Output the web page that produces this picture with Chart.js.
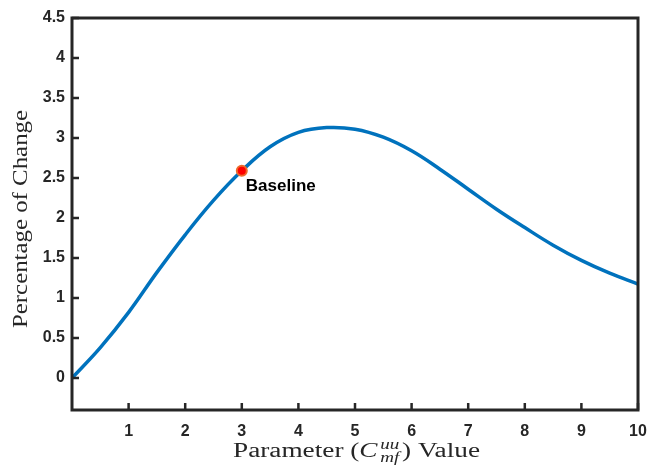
<!DOCTYPE html>
<html>
<head>
<meta charset="utf-8">
<script src="https://cdn.jsdelivr.net/npm/chart.js@4.4.1/dist/chart.umd.min.js"></script>
<style>
  html, body { margin: 0; padding: 0; background: #fff; }
  #wrap { width: 662px; height: 468px; }
</style>
</head>
<body>
<div id="wrap"><canvas id="sens"></canvas></div>
<script>
// parameter sweep and response
var paramValues = [0, 0.5, 1, 1.5, 2, 2.5, 3, 3.5, 4, 4.5, 5, 5.5, 6, 6.5, 7, 7.5, 8, 8.5, 9, 9.5, 10];
var pctChange   = [0, 0.38, 0.82, 1.32, 1.79, 2.22, 2.59, 2.89, 3.07, 3.13, 3.11, 3.01, 2.84, 2.61, 2.36, 2.11, 1.88, 1.66, 1.47, 1.31, 1.175];

var baselineX = 3;
var baselineY = 2.59;
var baselineLabel = 'Baseline';

var xTicks = [1, 2, 3, 4, 5, 6, 7, 8, 9, 10];
var yTicks = [0, 0.5, 1, 1.5, 2, 2.5, 3, 3.5, 4, 4.5];

var axisColor = '#262626';
var tickFont = { family: 'Liberation Sans', size: 16, weight: 'bold' };

var curve = paramValues.map(function (x, i) { return { x: x, y: pctChange[i] }; });

// draw text stretched horizontally to a given width
function fitText(ctx, text, x, y, width) {
    var w = ctx.measureText(text).width;
    ctx.save();
    ctx.translate(x, y);
    ctx.scale(width / w, 1);
    ctx.fillText(text, 0, 0);
    ctx.restore();
}

// box, inward ticks, axis titles and the baseline note
var decor = {
    id: 'decor',
    afterDraw: function (chart) {
        var ctx = chart.ctx;
        var a = chart.chartArea;
        var xs = chart.scales.x, ys = chart.scales.y;
        ctx.save();
        ctx.strokeStyle = axisColor;
        ctx.lineWidth = 3;
        ctx.strokeRect(a.left, a.top, a.right - a.left, a.bottom - a.top);

        ctx.lineWidth = 2.5;
        ctx.beginPath();
        yTicks.forEach(function (v) {
            var py = ys.getPixelForValue(v);
            ctx.moveTo(a.left, py);
            ctx.lineTo(a.left + 7, py);
        });
        xTicks.forEach(function (v) {
            var px = xs.getPixelForValue(v);
            ctx.moveTo(px, a.bottom);
            ctx.lineTo(px, a.bottom - 7);
        });
        ctx.stroke();

        // baseline note
        ctx.fillStyle = '#000';
        ctx.font = 'bold 17px "Liberation Sans"';
        ctx.textAlign = 'left';
        ctx.textBaseline = 'alphabetic';
        ctx.fillText(baselineLabel, xs.getPixelForValue(baselineX) + 4, ys.getPixelForValue(baselineY) + 20);

        // y title
        ctx.fillStyle = '#262626';
        ctx.font = '20px "Liberation Serif"';
        ctx.textAlign = 'center';
        ctx.textBaseline = 'middle';
        ctx.save();
        ctx.translate(22, 219);
        ctx.rotate(-Math.PI / 2);
        fitText(ctx, 'Percentage of Change', 0, 0, 218);
        ctx.restore();

        // x title with sub/superscript
        var big = '20px "Liberation Serif"';
        var bigIt = 'italic 20px "Liberation Serif"';
        var small = 'italic 14px "Liberation Serif"';
        ctx.textAlign = 'left';
        ctx.textBaseline = 'alphabetic';
        var pieces = ['Parameter (', 'C', 'uu', 'mf', ') Value'];
        var fonts = [big, bigIt, small, small, big];
        var w = pieces.map(function (t, i) { ctx.font = fonts[i]; return ctx.measureText(t).width; });
        var natural = w[0] + w[1] + 2 + Math.max(w[2], w[3]) + 2 + w[4];
        var target = 247;
        var k = target / natural;
        var x0 = 356.5 - target / 2;
        var by = 457;
        ctx.save();
        ctx.translate(x0, by);
        ctx.scale(k, 1);
        var cx = 0;
        ctx.font = big; ctx.fillText(pieces[0], cx, 0); cx += w[0];
        ctx.font = bigIt; ctx.fillText(pieces[1], cx, 0); cx += w[1] + 2;
        ctx.font = small;
        ctx.fillText(pieces[2], cx, -8);
        ctx.fillText(pieces[3], cx, 5);
        cx += Math.max(w[2], w[3]) + 2;
        ctx.font = big; ctx.fillText(pieces[4], cx, 0);
        ctx.restore();
        ctx.restore();
    }
};

new Chart(document.getElementById('sens').getContext('2d'), {
    type: 'scatter',
    data: {
        datasets: [{
            data: [{ x: baselineX, y: baselineY }],
            showLine: false,
            pointRadius: 5,
            pointBackgroundColor: '#ff0000',
            pointBorderColor: '#ee6a2c',
            pointBorderWidth: 2,
            order: 0
        }, {
            data: curve,
            showLine: true,
            borderColor: '#0072bd',
            borderWidth: 3.5,
            pointRadius: 0,
            tension: 0.4,
            order: 1
        }]
    },
    options: {
        responsive: true,
        maintainAspectRatio: false,
        animation: false,
        layout: { padding: { left: 0, top: 18, right: 24, bottom: 0 } },
        plugins: { legend: { display: false }, tooltip: { enabled: false } },
        scales: {
            x: {
                type: 'linear',
                min: 0,
                max: 10,
                grid: { display: false, drawTicks: false },
                border: { display: false },
                afterBuildTicks: function (s) { s.ticks = xTicks.map(function (v) { return { value: v }; }); },
                afterFit: function (s) { s.height = 58; },
                ticks: { color: axisColor, font: tickFont, padding: 12, maxRotation: 0,
                         callback: function (v) { return String(v); } }
            },
            y: {
                min: -0.4,
                max: 4.5,
                grid: { display: false, drawTicks: false },
                border: { display: false },
                afterBuildTicks: function (s) { s.ticks = yTicks.map(function (v) { return { value: v }; }); },
                afterFit: function (s) { s.width = 72; },
                ticks: { color: axisColor, font: tickFont, padding: 7,
                         callback: function (v) { return String(v); } }
            }
        }
    },
    plugins: [decor]
});
</script>
</body>
</html>
